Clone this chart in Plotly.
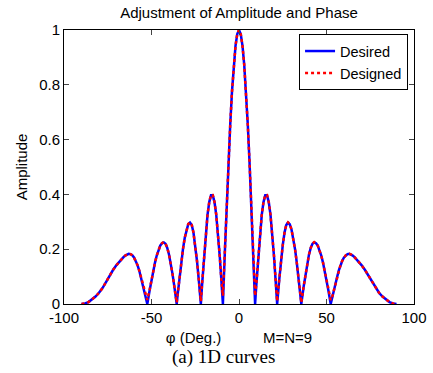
import plotly.graph_objects as go

# Angle (degrees)
phi_deg = [
    -90, -88, -86, -84, -82, -80, -78, -76, -74, -72,
    -70, -69, -68, -67, -66, -65, -64, -63, -62, -61, -60, -59, -58, -57, -56, -55, -54, -53,
    -52.4,
    -51, -50, -49, -48, -47, -46, -45, -44, -43, -42, -41, -40, -39, -38, -37,
    -35.6,
    -35, -34, -33, -32, -31, -30, -29, -28, -27, -26, -25, -24, -23,
    -21.8,
    -21, -20, -19, -18, -17, -16, -15, -14, -13, -12, -11, -10,
    -9.2,
    -8, -7, -6, -5, -4, -3, -2, -1,
    0,
    1, 2, 3, 4, 5, 6, 7, 8,
    9.2,
    10, 11, 12, 13, 14, 15, 16, 17, 18, 19, 20, 21,
    21.8,
    23, 24, 25, 26, 27, 28, 29, 30, 31, 32, 33, 34, 35,
    35.6,
    37, 38, 39, 40, 41, 42, 43, 44, 45, 46, 47, 48, 49, 50, 51,
    52.4,
    53, 54, 55, 56, 57, 58, 59, 60, 61, 62, 63, 64, 65, 66, 67, 68, 69, 70,
    72, 74, 76, 78, 80, 82, 84, 86, 88, 90,
]

desired_amp = [
    0.0, 0.002, 0.007, 0.016, 0.027, 0.041, 0.058, 0.080, 0.103, 0.124,
    0.142, 0.150, 0.157, 0.164, 0.171, 0.177, 0.181, 0.183, 0.182, 0.178, 0.170, 0.158, 0.142, 0.122, 0.097, 0.072, 0.045, 0.018,
    0.0,
    0.052, 0.088, 0.121, 0.151, 0.177, 0.197, 0.213, 0.222, 0.225, 0.220, 0.205, 0.181, 0.149, 0.110, 0.066,
    0.0,
    0.037, 0.096, 0.152, 0.201, 0.242, 0.272, 0.291, 0.297, 0.288, 0.260, 0.215, 0.157, 0.089,
    0.0,
    0.079, 0.174, 0.257, 0.325, 0.372, 0.397, 0.397, 0.372, 0.325, 0.257, 0.174, 0.079,
    0.0,
    0.203, 0.367, 0.520, 0.657, 0.776, 0.872, 0.942, 0.985,
    1.0,
    0.985, 0.942, 0.872, 0.776, 0.657, 0.520, 0.367, 0.203,
    0.0,
    0.079, 0.174, 0.257, 0.325, 0.372, 0.397, 0.397, 0.372, 0.325, 0.257, 0.174, 0.079,
    0.0,
    0.089, 0.157, 0.215, 0.260, 0.288, 0.297, 0.291, 0.272, 0.242, 0.201, 0.152, 0.096, 0.037,
    0.0,
    0.066, 0.110, 0.149, 0.181, 0.205, 0.220, 0.225, 0.222, 0.213, 0.197, 0.177, 0.151, 0.121, 0.088, 0.052,
    0.0,
    0.018, 0.045, 0.072, 0.097, 0.122, 0.142, 0.158, 0.170, 0.178, 0.182, 0.183, 0.181, 0.177, 0.171, 0.164, 0.157, 0.150, 0.142,
    0.124, 0.103, 0.080, 0.058, 0.041, 0.027, 0.016, 0.007, 0.002, 0.0,
]

designed_amp = [
    0.0, 0.002, 0.007, 0.016, 0.027, 0.041, 0.058, 0.080, 0.103, 0.124,
    0.142, 0.150, 0.157, 0.164, 0.171, 0.177, 0.181, 0.183, 0.182, 0.178, 0.170, 0.158, 0.142, 0.122, 0.097, 0.072, 0.045, 0.020,
    0.015,
    0.054, 0.089, 0.121, 0.151, 0.177, 0.197, 0.213, 0.222, 0.226, 0.221, 0.205, 0.181, 0.149, 0.110, 0.066,
    0.005,
    0.040, 0.097, 0.152, 0.201, 0.242, 0.272, 0.292, 0.298, 0.289, 0.260, 0.215, 0.157, 0.090,
    0.010,
    0.082, 0.175, 0.257, 0.325, 0.372, 0.398, 0.398, 0.372, 0.325, 0.257, 0.175, 0.082,
    0.030,
    0.205, 0.367, 0.520, 0.657, 0.776, 0.872, 0.942, 0.985,
    1.0,
    0.985, 0.942, 0.872, 0.776, 0.657, 0.520, 0.367, 0.205,
    0.030,
    0.082, 0.175, 0.257, 0.325, 0.372, 0.398, 0.398, 0.372, 0.325, 0.257, 0.175, 0.082,
    0.010,
    0.090, 0.157, 0.215, 0.260, 0.289, 0.298, 0.292, 0.272, 0.242, 0.201, 0.152, 0.097, 0.040,
    0.005,
    0.066, 0.110, 0.149, 0.181, 0.205, 0.221, 0.226, 0.222, 0.213, 0.197, 0.177, 0.151, 0.121, 0.089, 0.054,
    0.015,
    0.020, 0.045, 0.072, 0.097, 0.122, 0.142, 0.158, 0.170, 0.178, 0.182, 0.183, 0.181, 0.177, 0.171, 0.164, 0.157, 0.150, 0.142,
    0.124, 0.103, 0.080, 0.058, 0.041, 0.027, 0.016, 0.007, 0.002, 0.0,
]

x_ticks = [-100, -50, 0, 50, 100]
x_tick_text = ["-100", "-50", "0", "50", "100"]
y_ticks = [0, 0.2, 0.4, 0.6, 0.8, 1]
y_tick_text = ["0", "0.2", "0.4", "0.6", "0.8", "1"]

assert len(phi_deg) == len(desired_amp) == len(designed_amp)

FONT = "Liberation Sans, Arial, sans-serif"

fig = go.Figure()
fig.add_trace(go.Scatter(
    x=phi_deg, y=desired_amp, mode="lines", name="Desired",
    line=dict(color="#0000ff", width=2.5),
))
fig.add_trace(go.Scatter(
    x=phi_deg, y=designed_amp, mode="lines", name="Designed",
    line=dict(color="#ff0000", width=2.5, dash="dot"),
))

nb = "\u00a0"
fig.update_layout(
    width=433, height=373,
    margin=dict(l=64, r=19, t=30, b=69),
    paper_bgcolor="white", plot_bgcolor="white",
    font=dict(family=FONT, size=15, color="black"),
    title=dict(text="Adjustment of Amplitude and Phase", x=0.5, xref="paper",
               y=1 - 12.5 / 373, yref="container", yanchor="middle",
               font=dict(size=15, family=FONT, color="black")),
    xaxis=dict(
        range=[-100, 100], tickvals=x_ticks, ticktext=x_tick_text, ticks="inside", ticklen=5,
        showline=True, linecolor="black", linewidth=1, mirror="ticks",
        showgrid=False, zeroline=False, tickfont=dict(size=15), automargin=False,
        title=dict(text="φ (Deg.)" + nb * 10 + "M=N=9", font=dict(size=15), standoff=7),
    ),
    yaxis=dict(
        range=[0, 1], tickvals=y_ticks, ticktext=y_tick_text, ticks="inside", ticklen=5,
        showline=True, linecolor="black", linewidth=1, mirror="ticks",
        showgrid=False, zeroline=False, tickfont=dict(size=15), automargin=False,
        title=dict(text="Amplitude", font=dict(size=15), standoff=7),
    ),
    legend=dict(
        x=0.983, y=0.985, xanchor="right", yanchor="top",
        bordercolor="black", borderwidth=1, bgcolor="white",
        font=dict(size=14.5), tracegroupgap=0, itemwidth=30,
    ),
    showlegend=True,
)

fig.add_annotation(
    text="(a) 1D curves", xref="paper", yref="paper",
    x=0.456, y=-0.193, xanchor="center", yanchor="middle", showarrow=False,
    font=dict(family="Liberation Serif, Times New Roman, serif", size=19, color="black"),
)

fig.write_html(
    "out.html",
    config={"displayModeBar": False},
    post_script="document.body.style.margin='0';document.body.style.padding='0';",
)
